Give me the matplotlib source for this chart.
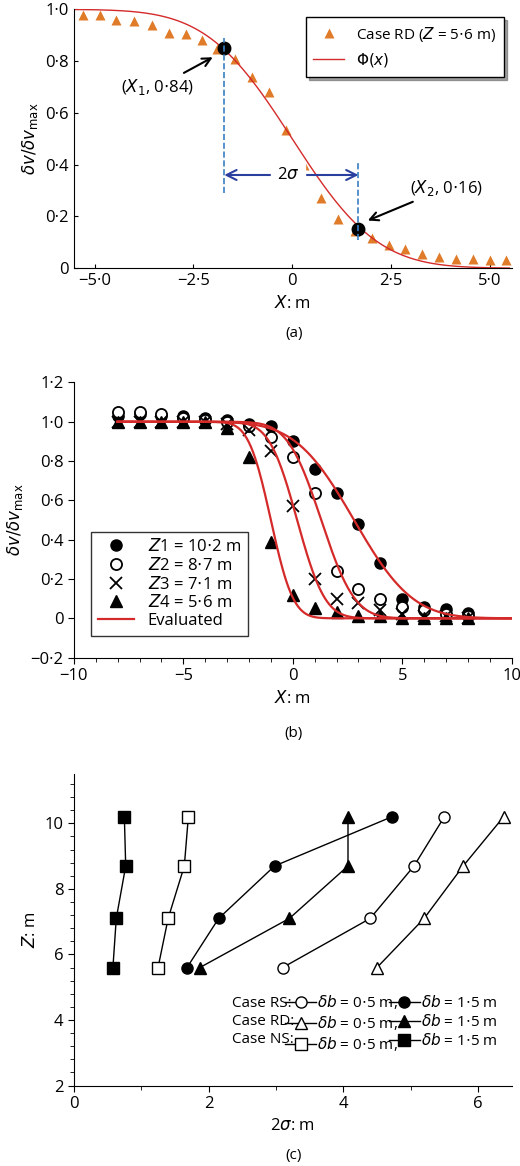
import numpy as np
import matplotlib
matplotlib.use("Agg")
import matplotlib.pyplot as plt
from matplotlib.ticker import FuncFormatter, MultipleLocator
from math import erf

plt.rcParams['font.family'] = ['Open Sans', 'DejaVu Sans']
plt.rcParams['font.size'] = 11
plt.rcParams['mathtext.fontset'] = 'dejavusans'

# ---- panel (a) data
a_x = [-5.3, -4.88, -4.45, -4.0, -3.56, -3.13, -2.7, -2.28, -1.9, -1.45, -1.02, -0.58, -0.15,
       0.3, 0.72, 1.15, 1.6, 2.02, 2.45, 2.87, 3.3, 3.72, 4.15, 4.58, 5.0, 5.42]
a_y = [0.98, 0.98, 0.96, 0.955, 0.94, 0.91, 0.905, 0.88, 0.845, 0.81, 0.74, 0.68, 0.535,
       0.40, 0.27, 0.19, 0.145, 0.115, 0.09, 0.075, 0.055, 0.045, 0.035, 0.035, 0.03, 0.03]
a_mu, a_sig = 0.0, 1.7
a_pts_x = [-1.72, 1.68]
a_pts_y = [0.85, 0.15]

# ---- panel (b) data
b_x = list(range(-8, 9))
b_z1 = [1.03, 1.04, 1.03, 1.03, 1.02, 1.01, 0.99, 0.98, 0.90, 0.76, 0.64, 0.48, 0.28, 0.10, 0.06, 0.045, 0.025]
b_z2 = [1.05, 1.05, 1.04, 1.02, 1.01, 1.00, 0.98, 0.92, 0.82, 0.64, 0.24, 0.15, 0.10, 0.06, 0.04, 0.02, 0.01]
b_z3 = [1.00, 1.00, 1.00, 1.00, 1.00, 0.99, 0.96, 0.85, 0.57, 0.20, 0.10, 0.08, 0.04, 0.02, 0.01, 0.01, 0.0]
b_z4 = [1.00, 1.00, 1.00, 1.00, 1.00, 0.97, 0.82, 0.39, 0.12, 0.05, 0.03, 0.01, 0.01, 0.0, 0.0, 0.0, 0.0]
b_mu = [2.8, 1.3, 0.2, -1.0]
b_sig = [2.1, 1.2, 1.0, 0.8]

# ---- panel (c) data
c_z = [5.6, 7.1, 8.7, 10.2]
rs_05 = [3.1, 4.4, 5.05, 5.5]
rs_15 = [1.68, 2.15, 2.98, 4.72]
rd_05 = [4.5, 5.2, 5.78, 6.38]
rd_15 = [1.87, 3.2, 4.07, 4.07]
ns_05 = [1.25, 1.4, 1.64, 1.7]
ns_15 = [0.58, 0.63, 0.77, 0.75]

def phi_c(x, mu, s):
    return np.array([0.5 * (1 - erf((v - mu) / (s * np.sqrt(2)))) for v in x])

dot = FuncFormatter(lambda v, p: ('%g' % round(v, 6)).replace('-', '\u2212').replace('.', '\u00b7'))
dot1 = FuncFormatter(lambda v, p: ('0' if abs(v) < 1e-9 else ('%.1f' % v)).replace('-', '\u2212').replace('.', '\u00b7'))

fig = plt.figure(figsize=(5.2, 11.66), dpi=100)
ylab = r'$\delta v/\delta v_{\rm max}$'

# (a)
ax = fig.add_axes([0.142, 0.770, 0.842, 0.222])
orange = '#e07b2a'
ax.plot(a_x, a_y, '^', color=orange, ms=7.5, mec='none', label=r'Case RD ($Z$ = 5$\cdot$6 m)')
xx = np.linspace(-5.5, 5.5, 300)
ax.plot(xx, phi_c(xx, a_mu, a_sig), color='#d42a2a', lw=1, label=r'$\Phi(x)$')
ax.plot(a_pts_x, a_pts_y, 'o', color='black', ms=9)
blue = '#2b3f9e'
ax.plot([a_pts_x[0]] * 2, [0.29, 0.89], '--', color='#3a7fc4', lw=1.2)
ax.plot([a_pts_x[1]] * 2, [0.11, 0.41], '--', color='#3a7fc4', lw=1.2)
ax.annotate('', xy=(a_pts_x[0], 0.36), xytext=(a_pts_x[1], 0.36),
            arrowprops=dict(arrowstyle='<->', color=blue, lw=1.5, mutation_scale=18, shrinkA=0, shrinkB=0))
ax.text(-0.1, 0.36, r'2$\sigma$', ha='center', va='center', fontsize=12, backgroundcolor='white')
ax.annotate(r'($X_1$, 0$\cdot$84)', xy=(-1.95, 0.82), xytext=(-3.4, 0.70), ha='center', va='center', fontsize=12,
            arrowprops=dict(arrowstyle='->', color='black', lw=1.5, mutation_scale=15))
ax.annotate(r'($X_2$, 0$\cdot$16)', xy=(1.85, 0.18), xytext=(3.9, 0.31), ha='center', va='center', fontsize=12,
            arrowprops=dict(arrowstyle='->', color='black', lw=1.5, mutation_scale=15))
ax.set_xlim(-5.53, 5.56)
ax.set_ylim(0, 1.0)
ax.xaxis.set_major_locator(MultipleLocator(2.5))
ax.yaxis.set_major_locator(MultipleLocator(0.2))
ax.xaxis.set_major_formatter(FuncFormatter(lambda v, p: ('0' if abs(v) < 1e-9 else '%.1f' % v).replace('-', '\u2212').replace('.', '\u00b7')))
ax.yaxis.set_major_formatter(dot1)
for s in ['top', 'right']:
    ax.spines[s].set_visible(False)
ax.tick_params(direction='in', length=3, labelsize=12)
ax.set_xlabel(r'$X$: m', fontsize=12)
ax.set_ylabel(ylab, fontsize=12)
ax.legend(loc='upper right', fancybox=False, edgecolor='black', shadow=True, fontsize=11, borderpad=0.5)
fig.text(0.565, 0.714, '(a)', ha='center', va='center')

# (b)
ax = fig.add_axes([0.142, 0.436, 0.842, 0.236])
ax.plot(b_x, b_z1, 'o', color='black', ms=8, label=r'$Z$1 = 10$\cdot$2 m')
ax.plot(b_x, b_z2, 'o', mfc='white', mec='black', mew=1.3, ms=8, label=r'$Z$2 = 8$\cdot$7 m')
ax.plot(b_x, b_z3, 'x', color='black', ms=8, mew=1.3, label=r'$Z$3 = 7$\cdot$1 m')
ax.plot(b_x, b_z4, '^', color='black', ms=8, label=r'$Z$4 = 5$\cdot$6 m')
xb = np.linspace(-8, 10, 400)
for i, (m, s) in enumerate(zip(b_mu, b_sig)):
    ax.plot(xb, phi_c(xb, m, s), color='#d42a2a', lw=1.6, label='Evaluated' if i == 0 else None)
ax.set_xlim(-10, 10)
ax.set_ylim(-0.2, 1.2)
ax.xaxis.set_major_locator(MultipleLocator(5))
ax.xaxis.set_minor_locator(MultipleLocator(1))
ax.yaxis.set_major_locator(MultipleLocator(0.2))
ax.xaxis.set_major_formatter(dot)
ax.yaxis.set_major_formatter(dot1)
for s in ['top', 'right']:
    ax.spines[s].set_visible(False)
ax.tick_params(direction='out', length=4, labelsize=12)
ax.tick_params(which='minor', direction='out', length=3)
ax.set_xlabel(r'$X$: m', fontsize=12)
ax.set_ylabel(ylab, fontsize=12)
ax.legend(loc='lower left', bbox_to_anchor=(0.02, 0.05), fancybox=False, edgecolor='black', fontsize=12,
          handlelength=2.2, labelspacing=0.1)
fig.text(0.565, 0.371, '(b)', ha='center', va='center')

# (c)
ax = fig.add_axes([0.142, 0.069, 0.842, 0.267])
kw = dict(color='black', lw=1, ms=8, mew=1)
l1, = ax.plot(rs_05, c_z, '-o', mfc='white', **kw)
l2, = ax.plot(rs_15, c_z, '-o', mfc='black', **kw)
l3, = ax.plot(rd_05, c_z, '-^', mfc='white', **kw)
l4, = ax.plot(rd_15, c_z, '-^', mfc='black', **kw)
l5, = ax.plot(ns_05, c_z, '-s', mfc='white', **kw)
l6, = ax.plot(ns_15, c_z, '-s', mfc='black', **kw)
ax.set_xlim(0, 6.5)
ax.set_ylim(2, 11.5)
ax.xaxis.set_major_locator(MultipleLocator(2))
ax.xaxis.set_minor_locator(MultipleLocator(1))
ax.yaxis.set_major_locator(MultipleLocator(2))
ax.yaxis.set_minor_locator(MultipleLocator(0.4))
for s in ['top', 'right']:
    ax.spines[s].set_visible(False)
ax.tick_params(direction='out', length=4, labelsize=12)
ax.tick_params(which='minor', direction='out', length=3)
ax.set_xlabel(r'2$\sigma$: m', fontsize=12)
ax.set_ylabel(r'$Z$: m', fontsize=12)
blank = plt.Line2D([], [], color='none')
handles = [blank, blank, blank, l1, l3, l5, l2, l4, l6]
labels = ['Case RS:', 'Case RD:', 'Case NS:'] + [r'$\delta b$ = 0$\cdot$5 m,'] * 3 + [r'$\delta b$ = 1$\cdot$5 m'] * 3
ax.legend(handles, labels, ncol=3, loc='lower right', bbox_to_anchor=(1.0, 0.06), frameon=False,
          fontsize=11, handlelength=2.0, handletextpad=0.1, columnspacing=-0.6, labelspacing=0.2)
fig.text(0.565, 0.009, '(c)', ha='center', va='center')

fig.savefig('out.png', dpi=100)
